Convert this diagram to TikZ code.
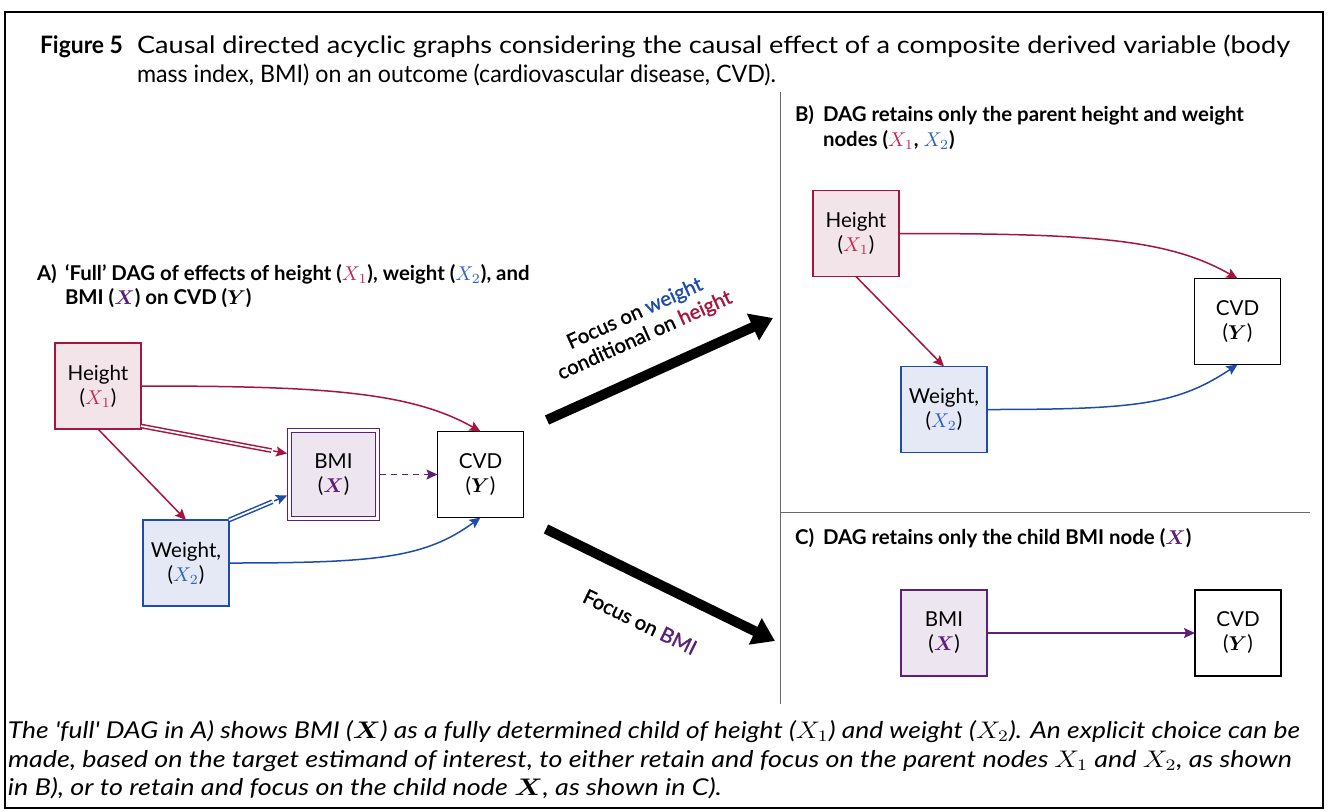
\documentclass[tikz,border=0pt]{standalone}
\usepackage{fontspec}
\usepackage{amsmath}
\usepackage{graphicx}
\setmainfont{Lato}
\newfontfamily\medfont[FakeBold=1.2]{Lato}
\usetikzlibrary{arrows.meta,calc}

\definecolor{hred}{RGB}{166,20,64}
\definecolor{hfill}{RGB}{243,228,234}
\definecolor{xred}{RGB}{196,40,84}
\definecolor{wblue}{RGB}{30,76,172}
\definecolor{wfill}{RGB}{228,233,245}
\definecolor{xblue}{RGB}{44,96,196}
\definecolor{bpurp}{RGB}{92,32,122}
\definecolor{bfill}{RGB}{237,230,240}
\definecolor{divgray}{RGB}{105,105,105}

\tikzset{
  every node/.style={inner sep=0pt, outer sep=0pt},
  varbox/.style={draw, line width=0.9pt, minimum width=43pt, minimum height=43pt,
    align=center, font=\fontsize{10.3}{12}\selectfont},
  hbox/.style={varbox, draw=hred, fill=hfill},
  wbox/.style={varbox, draw=wblue, fill=wfill},
  bbox/.style={varbox, draw=bpurp, fill=bfill},
  ybox/.style={varbox, draw=black, fill=white},
  bdbl/.style={varbox, draw=bpurp, fill=bfill, line width=0.6pt, double=white,
    double distance=1.2pt, minimum width=44pt, minimum height=44pt, outer sep=1.2pt},
  arr/.style={line width=0.75pt, -{Stealth[length=5.5pt,width=5pt,inset=1pt]}},
  dblline/.style={line width=0.75pt, double=white, double distance=0.9pt},
  bigarr/.style={line width=5pt, -{Triangle[length=11pt,width=14pt]}},
  head/.style={anchor=base west, font=\fontsize{10.2}{12}\bfseries\selectfont},
  arrlabel/.style={align=center, font=\medfont\fontsize{10.2}{12}\selectfont},
  ttl/.style={anchor=base west, font=\fontsize{12}{14}\selectfont},
  cpt/.style={anchor=base west, font=\itshape\fontsize{11.6}{14}\selectfont}
}

\begin{document}
\begin{tikzpicture}[x=0.5pt, y=-0.5pt]
  \useasboundingbox (0,0) rectangle (1328,811);
  \fill[white] (0,0) rectangle (1328,811);

  % frame and panel dividers
  \draw[line width=1pt] (5,12) rectangle (1323,808);
  \draw[divgray, line width=0.5pt] (780,92) -- (780,704);
  \draw[divgray, line width=0.5pt] (780,512) -- (1310,512);

  % title
  \node[ttl] (t0) at (40,53) {\resizebox{41.5pt}{\height}{\bfseries Figure 5}};
  \node[ttl] (t1) at (137,53) {\resizebox{576.5pt}{\height}{Causal directed acyclic graphs considering the causal effect of a composite derived variable (body}};
  \node[ttl] (t2) at (137,82) {\resizebox{319.5pt}{\height}{mass index, BMI) on an outcome (cardiovascular disease, CVD).}};

  % panel A
  \node[head] (la) at (37,280) {A)};
  \node[head] (la1) at (65,280) {‘Full’ DAG of effects of height (\textcolor{xred}{$X_1$}), weight (\textcolor{xblue}{$X_2$}), and};
  \node[head] (la2) at (65,304) {BMI (\textcolor{bpurp}{$\boldsymbol{X}$}) on CVD ($\boldsymbol{Y}$)};

  \node[hbox] (hA) at (98,386) {Height\\(\textcolor{xred}{$X_1$})};
  \node[wbox] (wA) at (186,563) {Weight,\\(\textcolor{xblue}{$X_2$})};
  \node[bdbl] (bA) at (333.5,474.5) {BMI\\(\textcolor{bpurp}{$\boldsymbol{X}$})};
  \node[ybox] (cA) at (480.5,474.5) {CVD\\($\boldsymbol{Y}$)};

  \draw[hred, arr] (hA.east) .. controls +(180,0) and +(-70,-40) .. (cA.north);
  \draw[wblue, arr] (wA.east) .. controls +(150,0) and +(-55,40) .. (cA.south);
  \draw[hred, arr] (hA.south) -- (wA.north);
  \draw[bpurp, arr, dash pattern=on 3pt off 2.5pt] (bA.east) -- (cA.west);

  % double connectors into BMI
  \coordinate (hAd) at ($(hA.south east)+(0,-3)$);
  \coordinate (bAd1) at ($(bA.west)+(0,-21)$);
  \draw[hred, dblline] (hAd) -- ($(bAd1)!8pt!(hAd)$);
  \draw[hred, arr] ($(bAd1)!7pt!(hAd)$) -- (bAd1);
  \coordinate (wAd) at (wA.north east);
  \coordinate (bAd2) at ($(bA.west)+(0,21)$);
  \draw[wblue, dblline] (wAd) -- ($(bAd2)!8pt!(wAd)$);
  \draw[wblue, arr] ($(bAd2)!7pt!(wAd)$) -- (bAd2);

  % focus arrows
  \coordinate (u0) at (547,420);
  \coordinate (u1) at (773,318);
  \draw[bigarr] (u0) -- (u1);
  \node[arrlabel, rotate=24.3] (lu) at (640,325) {Focus on \textcolor{wblue}{weight}\\conditional on \textcolor{hred}{height}};
  \coordinate (d0) at (546,529);
  \coordinate (d1) at (775,641);
  \draw[bigarr] (d0) -- (d1);
  \node[arrlabel, rotate=-26] (ld) at (640,622) {Focus on \textcolor{bpurp}{BMI}};

  % panel B
  \node[head] (lb) at (795,121) {B)};
  \node[head] (lb1) at (823,121) {DAG retains only the parent height and weight};
  \node[head] (lb2) at (823,146) {nodes (\textcolor{xred}{$X_1$}, \textcolor{xblue}{$X_2$})};

  \node[hbox] (hB) at (856,233.5) {Height\\(\textcolor{xred}{$X_1$})};
  \node[wbox] (wB) at (944,409.5) {Weight,\\(\textcolor{xblue}{$X_2$})};
  \node[ybox] (cB) at (1237.5,321.5) {CVD\\($\boldsymbol{Y}$)};

  \draw[hred, arr] (hB.east) .. controls +(190,0) and +(-70,-40) .. (cB.north);
  \draw[hred, arr] (hB.south) -- (wB.north);
  \draw[wblue, arr] (wB.east) .. controls +(150,0) and +(-60,40) .. (cB.south);

  % panel C
  \node[head] (lc) at (795,544) {C)};
  \node[head] (lc1) at (823,544) {DAG retains only the child BMI node (\textcolor{bpurp}{$\boldsymbol{X}$})};

  \node[bbox] (bC) at (944,633) {BMI\\(\textcolor{bpurp}{$\boldsymbol{X}$})};
  \node[ybox] (cC) at (1238,633) {CVD\\($\boldsymbol{Y}$)};
  \draw[bpurp, arr] (bC.east) -- (cC.west);

  % caption
  \node[cpt] (c1) at (8,738) {\resizebox{646pt}{\height}{The \textquotesingle full\textquotesingle{} DAG in A) shows BMI ($\boldsymbol{X}$) as a fully determined child of height ($X_1$) and weight ($X_2$). An explicit choice can be}};
  \node[cpt] (c2) at (8,767) {\resizebox{642pt}{\height}{made, based on the target estimand of interest, to either retain and focus on the parent nodes $X_1$ and $X_2$, as shown}};
  \node[cpt] (c3) at (8,795) {\resizebox{357pt}{\height}{in B), or to retain and focus on the child node $\boldsymbol{X}$, as shown in C).}};
\end{tikzpicture}
\end{document}
